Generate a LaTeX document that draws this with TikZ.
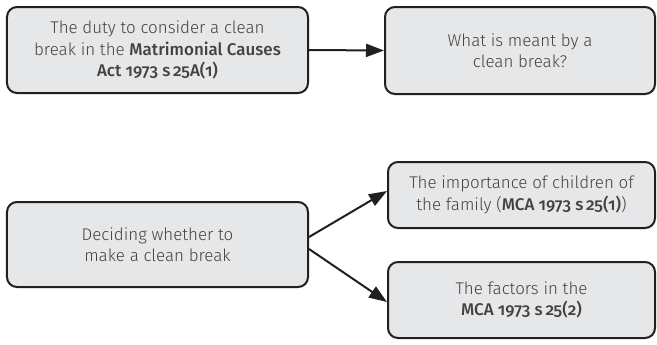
\documentclass[tikz,border=0pt]{standalone}
\usepackage{fontspec}
\setmainfont{Fira Sans Light}[Numbers=OldStyle,BoldFont={Fira Sans Medium}]
\usetikzlibrary{arrows.meta,calc}
\definecolor{boxfill}{HTML}{E6E7E9}
\definecolor{ink}{HTML}{231F20}
\begin{document}
\begin{tikzpicture}[x=1bp,y=-1bp,
  box/.style={draw=ink,fill=boxfill,line width=2bp,rounded corners=10bp,align=center,
    inner sep=0pt,font=\fontsize{17}{21.5}\selectfont,text=ink!85},
  conn/.style={draw=ink,line width=2bp,-{Triangle[length=18bp,width=13bp]}}]
\useasboundingbox (0,0) rectangle (657,344);
\node[box,minimum width=301bp,minimum height=86bp] (b1) at (157.5,50)
  {The duty to consider a clean\\break in the \textbf{Matrimonial Causes}\\\textbf{Act 1973 s\,25A(1)}};
\node[box,minimum width=270bp,minimum height=87bp] (b2) at (520,50.5)
  {What is meant by a\\clean break?};
\node[box,minimum width=301bp,minimum height=85bp] (b3) at (157.5,244.5)
  {Deciding whether to\\make a clean break};
\node[box,minimum width=267bp,minimum height=66bp] (b4) at (521.5,195)
  {The importance of children of\\the family (\textbf{MCA 1973 s\,25(1)})};
\node[box,minimum width=267bp,minimum height=76bp] (b5) at (521.5,300)
  {The factors in the\\\textbf{MCA 1973 s\,25(2)}};
\draw[conn] (b1.east) -- (b2.west);
\coordinate (s1) at ($(b3.east)+(0,-7.5)$);
\coordinate (s2) at ($(b3.east)+(0,4.5)$);
\coordinate (t1) at ($(b4.west)+(0,-4)$);
\coordinate (t2) at ($(b5.west)+(0,2)$);
\draw[conn] (s1) -- (t1);
\draw[conn] (s2) -- (t2);
\end{tikzpicture}
\end{document}
